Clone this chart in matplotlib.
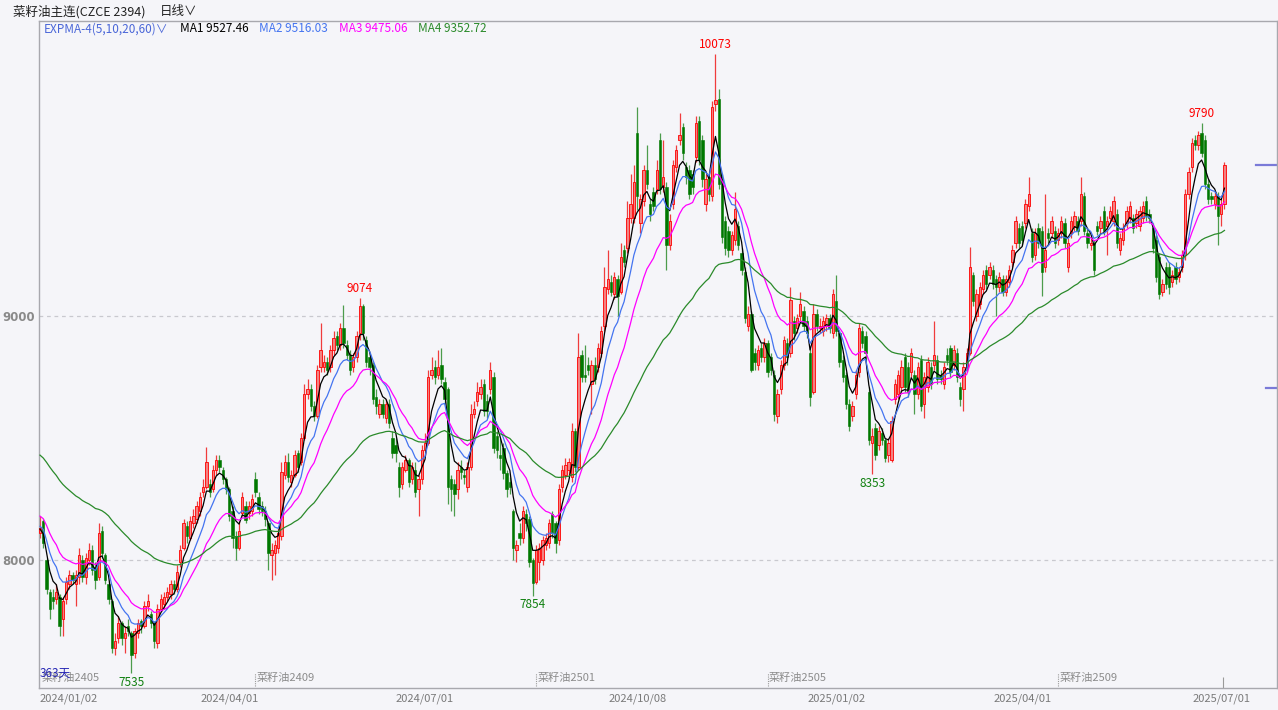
import numpy as np
import matplotlib
matplotlib.use("Agg")
import matplotlib.pyplot as plt
import matplotlib.transforms as mtransforms

plt.rcParams["font.family"] = ["Noto Sans CJK SC", "DejaVu Sans"]

W, H = 1278, 710

# ---- daily OHLC (index 0 = 2024/01/02) ----
opens = [
    8110, 8160, 8000, 7870, 7850, 7840, 7850, 7760, 7840, 7900,
    7940, 7900, 7930, 8000, 7930, 8000, 8040, 7970, 7930, 8120,
    8020, 7900, 7830, 7640, 7680, 7740, 7680, 7730, 7700, 7620,
    7700, 7750, 7730, 7810, 7780, 7740, 7660, 7800, 7820, 7850,
    7860, 7900, 7880, 7990, 8050, 8140, 8090, 8150, 8170, 8200,
    8280, 8300, 8310, 8290, 8370, 8410, 8370, 8330, 8290, 8200,
    8100, 8050, 8192, 8220, 8192, 8200, 8330, 8260, 8220, 8200,
    8150, 8020, 8030, 8050, 8100, 8350, 8400, 8320, 8350, 8440,
    8400, 8500, 8680, 8700, 8630, 8590, 8790, 8790, 8810, 8790,
    8860, 8920, 8880, 8950, 8880, 8840, 8790, 8830, 8930, 9040,
    8900, 8830, 8800, 8670, 8600, 8640, 8580, 8640, 8500, 8470,
    8380, 8310, 8370, 8410, 8330, 8370, 8290, 8330, 8450, 8480,
    8760, 8790, 8760, 8800, 8730, 8700, 8330, 8310, 8290, 8380,
    8350, 8300, 8380, 8600, 8650, 8680, 8720, 8650, 8700, 8750,
    8510, 8430, 8460, 8355, 8320, 8200, 8040, 8110, 8090, 8190,
    8170, 8000, 7910, 7990, 8000, 8060, 8070, 8190, 8150, 8080,
    8300, 8350, 8370, 8340, 8530, 8380, 8840, 8760, 8800, 8720,
    8800, 8790, 8850, 8960, 9110, 9140, 9090, 9150, 9100, 9270,
    9280, 9400, 9400, 9748, 9380, 9470, 9600, 9460, 9510, 9520,
    9720, 9530, 9530, 9290, 9460, 9610, 9720, 9775, 9610, 9600,
    9580, 9650, 9800, 9720, 9460, 9570, 9490, 9870, 9890, 9560,
    9390, 9350, 9270, 9310, 9370, 9260, 9180, 8960, 9010, 8850,
    8800, 8870, 8830, 8890, 8830, 8760, 8590, 8700, 8800, 8890,
    8850, 8980, 8950, 9000, 9020, 8980, 8850, 8690, 9010, 8950,
    8940, 8960, 8990, 8930, 9060, 8930, 8820, 8760, 8640, 8590,
    8680, 8770, 8940, 8920, 8690, 8480, 8540, 8470, 8520, 8490,
    8430, 8410, 8660, 8680, 8710, 8830, 8790, 8770, 8760, 8680,
    8820, 8640, 8710, 8790, 8800, 8820, 8760, 8720, 8840, 8870,
    8800, 8850, 8710, 8700, 8790, 8850, 9170, 9000, 9050, 9110,
    9190, 9170, 9190, 9150, 9120, 9150, 9100, 9140, 9220, 9300,
    9360, 9370, 9380, 9450, 9340, 9250, 9360, 9350, 9200, 9340,
    9340, 9350, 9310, 9340, 9380, 9200, 9340, 9370, 9390, 9390,
    9490, 9340, 9290, 9300, 9370, 9360, 9430, 9370, 9400, 9390,
    9420, 9270, 9310, 9380, 9400, 9400, 9380, 9370, 9400, 9470,
    9420, 9360, 9310, 9240, 9100, 9200, 9200, 9140, 9200, 9160,
    9200, 9250, 9500, 9610, 9720, 9700, 9750, 9720, 9540, 9490,
    9460, 9490, 9420, 9460,
]
highs = [
    8180, 8170, 8010, 7880, 7880, 7900, 7860, 7850, 7930, 7960,
    7950, 7960, 8050, 8020, 8030, 8070, 8060, 7990, 8150, 8140,
    8030, 7910, 7840, 7700, 7770, 7750, 7730, 7760, 7710, 7720,
    7760, 7760, 7830, 7860, 7790, 7750, 7820, 7860, 7870, 7890,
    7920, 7920, 7980, 8060, 8170, 8160, 8180, 8210, 8240, 8280,
    8330, 8465, 8330, 8390, 8430, 8430, 8380, 8340, 8300, 8220,
    8120, 8160, 8280, 8240, 8240, 8270, 8360, 8280, 8240, 8220,
    8160, 8070, 8080, 8130, 8400, 8430, 8440, 8370, 8450, 8450,
    8520, 8720, 8740, 8720, 8650, 8800, 8970, 8840, 8830, 8880,
    8940, 8940, 8970, 9045, 8900, 8860, 8850, 8940, 9074, 9050,
    8920, 8850, 8810, 8700, 8660, 8660, 8660, 8660, 8530, 8500,
    8400, 8400, 8430, 8420, 8400, 8400, 8350, 8470, 8520, 8780,
    8830, 8820, 8860, 8870, 8750, 8710, 8350, 8330, 8400, 8410,
    8370, 8400, 8640, 8650, 8730, 8740, 8740, 8680, 8810, 8770,
    8530, 8500, 8480, 8370, 8340, 8210, 8080, 8150, 8220, 8210,
    8180, 8010, 8060, 8070, 8100, 8110, 8170, 8200, 8160, 8310,
    8390, 8420, 8420, 8560, 8540, 8930, 8860, 8880, 8830, 8820,
    8830, 8890, 8960, 9200, 9270, 9170, 9180, 9170, 9300, 9290,
    9470, 9580, 9620, 9858, 9500, 9620, 9700, 9480, 9530, 9640,
    9750, 9720, 9550, 9420, 9640, 9700, 9830, 9790, 9630, 9620,
    9600, 9820, 9820, 9740, 9580, 9590, 9880, 10073, 9930, 9580,
    9410, 9370, 9350, 9510, 9390, 9280, 9200, 9040, 9020, 8870,
    8880, 8890, 8910, 8900, 8850, 8780, 8700, 8820, 8920, 8910,
    9120, 9000, 9010, 9100, 9040, 9000, 8870, 9050, 9030, 8990,
    9000, 9010, 9010, 9110, 9170, 8940, 8840, 8770, 8660, 8650,
    8780, 8970, 8960, 8940, 8710, 8540, 8560, 8550, 8540, 8500,
    8500, 8590, 8740, 8780, 8820, 8850, 8810, 8870, 8780, 8810,
    8840, 8770, 8830, 8810, 8980, 8840, 8780, 8810, 8870, 8880,
    8880, 8870, 8730, 8810, 8870, 9284, 9180, 9110, 9140, 9190,
    9210, 9220, 9210, 9170, 9180, 9170, 9170, 9210, 9290, 9410,
    9380, 9390, 9480, 9570, 9360, 9360, 9380, 9370, 9500, 9360,
    9410, 9370, 9360, 9410, 9400, 9320, 9410, 9430, 9410, 9570,
    9510, 9360, 9320, 9310, 9390, 9410, 9450, 9410, 9450, 9490,
    9440, 9340, 9380, 9450, 9470, 9420, 9440, 9450, 9470, 9490,
    9440, 9380, 9330, 9260, 9150, 9220, 9220, 9190, 9220, 9200,
    9270, 9520, 9610, 9730, 9740, 9760, 9790, 9740, 9560, 9510,
    9510, 9510, 9480, 9630,
]
lows = [
    8090, 8050, 7860, 7760, 7800, 7820, 7690, 7690, 7820, 7880,
    7900, 7810, 7900, 7910, 7900, 7980, 7940, 7880, 7920, 8010,
    7900, 7820, 7620, 7610, 7660, 7650, 7620, 7690, 7535, 7600,
    7680, 7700, 7720, 7790, 7720, 7640, 7640, 7790, 7800, 7830,
    7840, 7860, 7870, 7970, 8040, 8070, 8080, 8130, 8150, 8180,
    8260, 8290, 8260, 8280, 8350, 8360, 8310, 8270, 8160, 8050,
    8000, 8040, 8180, 8150, 8170, 8180, 8260, 8190, 8180, 8140,
    7960, 7920, 7940, 8030, 8080, 8330, 8320, 8300, 8340, 8360,
    8390, 8490, 8660, 8610, 8570, 8580, 8770, 8770, 8760, 8770,
    8840, 8860, 8860, 8870, 8820, 8760, 8770, 8810, 8900, 8900,
    8790, 8760, 8640, 8600, 8580, 8580, 8560, 8540, 8420, 8400,
    8260, 8290, 8360, 8300, 8310, 8260, 8180, 8310, 8430, 8470,
    8740, 8720, 8740, 8720, 8640, 8230, 8200, 8180, 8250, 8330,
    8310, 8280, 8370, 8580, 8630, 8660, 8590, 8580, 8680, 8440,
    8420, 8370, 8330, 8260, 8270, 8000, 7990, 8060, 8070, 8120,
    7970, 7854, 7900, 7920, 7980, 8040, 8050, 8090, 8030, 8060,
    8280, 8330, 8350, 8320, 8360, 8370, 8730, 8730, 8760, 8600,
    8720, 8770, 8830, 8940, 9090, 9080, 9070, 9000, 9090, 9200,
    9260, 9380, 9380, 9434, 9340, 9450, 9520, 9390, 9430, 9500,
    9500, 9510, 9190, 9270, 9440, 9590, 9700, 9640, 9540, 9480,
    9500, 9630, 9620, 9530, 9430, 9470, 9470, 9840, 9520, 9300,
    9250, 9240, 9250, 9290, 9270, 9170, 8970, 8940, 8770, 8780,
    8780, 8810, 8810, 8750, 8760, 8570, 8560, 8680, 8780, 8800,
    8830, 8900, 8930, 8980, 8940, 8910, 8630, 8680, 8940, 8930,
    8920, 8940, 8930, 8910, 8920, 8790, 8730, 8620, 8530, 8570,
    8660, 8750, 8870, 8820, 8470, 8353, 8410, 8450, 8470, 8400,
    8400, 8400, 8640, 8660, 8690, 8690, 8670, 8750, 8600, 8660,
    8610, 8580, 8690, 8700, 8780, 8720, 8720, 8700, 8800, 8750,
    8780, 8730, 8630, 8610, 8770, 8840, 9040, 8980, 9030, 9090,
    9110, 9150, 9110, 9000, 9100, 9080, 9080, 9120, 9200, 9280,
    9280, 9290, 9360, 9430, 9220, 9230, 9280, 9080, 9180, 9300,
    9320, 9280, 9290, 9320, 9280, 9180, 9320, 9350, 9330, 9370,
    9330, 9280, 9270, 9170, 9330, 9340, 9330, 9250, 9380, 9370,
    9280, 9250, 9290, 9360, 9380, 9340, 9360, 9350, 9380, 9390,
    9380, 9260, 9140, 9070, 9080, 9110, 9090, 9120, 9130, 9140,
    9180, 9230, 9480, 9590, 9680, 9680, 9650, 9520, 9460, 9460,
    9440, 9290, 9370, 9440,
]
closes = [
    8130, 8070, 7880, 7800, 7830, 7870, 7730, 7830, 7910, 7940,
    7920, 7940, 8020, 7930, 8010, 8040, 7960, 7920, 8110, 8030,
    7920, 7840, 7640, 7670, 7740, 7680, 7700, 7710, 7610, 7710,
    7740, 7730, 7810, 7830, 7740, 7670, 7800, 7840, 7850, 7870,
    7900, 7880, 7950, 8040, 8150, 8100, 8160, 8180, 8220, 8260,
    8300, 8400, 8280, 8370, 8410, 8380, 8330, 8290, 8180, 8090,
    8050, 8120, 8260, 8165, 8220, 8250, 8280, 8210, 8200, 8170,
    8030, 8040, 8060, 8110, 8360, 8400, 8340, 8350, 8430, 8380,
    8500, 8680, 8700, 8630, 8590, 8780, 8860, 8810, 8780, 8860,
    8910, 8880, 8950, 8890, 8840, 8780, 8830, 8920, 9040, 8930,
    8810, 8790, 8660, 8630, 8640, 8600, 8640, 8560, 8440, 8440,
    8300, 8380, 8410, 8320, 8380, 8280, 8330, 8450, 8480, 8750,
    8780, 8750, 8790, 8740, 8660, 8300, 8290, 8270, 8370, 8360,
    8340, 8380, 8600, 8620, 8690, 8710, 8610, 8610, 8780, 8460,
    8450, 8420, 8355, 8290, 8300, 8050, 8060, 8090, 8200, 8150,
    7990, 7905, 8040, 8050, 8080, 8090, 8150, 8110, 8070, 8290,
    8370, 8390, 8400, 8530, 8380, 8830, 8750, 8750, 8780, 8800,
    8740, 8870, 8940, 9120, 9150, 9100, 9160, 9080, 9240, 9220,
    9400, 9460, 9550, 9490, 9480, 9600, 9540, 9420, 9450, 9600,
    9520, 9570, 9290, 9390, 9620, 9680, 9740, 9666, 9570, 9500,
    9530, 9790, 9640, 9560, 9560, 9500, 9858, 9885, 9540, 9325,
    9280, 9270, 9330, 9440, 9290, 9190, 8990, 9010, 8780, 8810,
    8860, 8830, 8890, 8770, 8780, 8600, 8680, 8800, 8900, 8830,
    9065, 8930, 8990, 9050, 8960, 8930, 8670, 9010, 8960, 8960,
    8980, 8990, 8950, 9090, 8940, 8810, 8750, 8640, 8550, 8630,
    8760, 8950, 8890, 8850, 8490, 8510, 8430, 8530, 8490, 8420,
    8480, 8570, 8720, 8760, 8790, 8710, 8690, 8850, 8680, 8790,
    8630, 8750, 8810, 8720, 8840, 8740, 8740, 8790, 8820, 8770,
    8860, 8750, 8660, 8790, 8850, 9200, 9060, 9090, 9120, 9170,
    9130, 9200, 9130, 9120, 9160, 9100, 9150, 9190, 9270, 9390,
    9300, 9310, 9460, 9500, 9240, 9340, 9300, 9180, 9270, 9320,
    9390, 9300, 9340, 9390, 9300, 9300, 9390, 9410, 9350, 9500,
    9350, 9300, 9300, 9190, 9350, 9390, 9350, 9390, 9430, 9470,
    9300, 9320, 9360, 9430, 9450, 9360, 9420, 9430, 9450, 9410,
    9400, 9280, 9160, 9090, 9130, 9130, 9120, 9170, 9150, 9180,
    9250, 9500, 9590, 9710, 9700, 9740, 9670, 9540, 9480, 9480,
    9490, 9410, 9460, 9620,
]

# EXPMA settings; seeds are the line values at the left edge of the window
ema_periods = [5, 10, 20, 60]
ema_seeds = [8125, 8140, 8185, 8440]
ema_names = ["MA1", "MA2", "MA3", "MA4"]
ema_values_shown = ["9527.46", "9516.03", "9475.06", "9352.72"]
ema_colors = ["#000000", "#4474f0", "#ff00ff", "#2a8a2a"]

date_pos = [0, 58, 118, 183, 244, 301, 362]
date_labels = ["2024/01/02", "2024/04/01", "2024/07/01", "2024/10/08",
               "2025/01/02", "2025/04/01", "2025/07/01"]

contract_pos = [0, 66, 152, 223, 312]
contract_labels = ["菜籽油2405", "菜籽油2409", "菜籽油2501", "菜籽油2505", "菜籽油2509"]

high_marks = [98, 207, 356]
low_marks = [28, 151, 255]
right_marks = [9620, 8705]

y_ticks = [8000, 9000]


def expma(values, period, seed):
    alpha = 2.0 / (period + 1)
    out, prev = [], seed
    for v in values:
        prev = prev + alpha * (v - prev)
        out.append(prev)
    return np.array(out)


o = np.array(opens, float)
c = np.array(closes, float)
h = np.maximum(np.array(highs, float), np.maximum(o, c))
l = np.minimum(np.array(lows, float), np.minimum(o, c))
x = np.arange(len(c))
up = c >= o

BG = "#f5f5f9"
fig = plt.figure(figsize=(W / 100, H / 100), dpi=100, facecolor=BG)
ax = fig.add_axes([39 / W, 1 - 688 / H, (1277 - 39) / W, (688 - 21) / H], facecolor=BG)

# grid
for yt in y_ticks:
    ax.axhline(yt, color="#c9c9cf", lw=0.9, ls=(0, (3, 3)), zorder=0)

# wicks
ax.vlines(x[up], l[up], h[up], color="#f03c3c", lw=0.9, zorder=2)
ax.vlines(x[~up], l[~up], h[~up], color="#4c9c4c", lw=0.9, zorder=2)

# bodies: red hollow-ish, green solid
body = np.maximum(np.abs(c - o), 4)
bottom = np.minimum(o, c)
ax.bar(x[up], body[up], bottom=bottom[up], width=0.72,
       facecolor="#f28282", edgecolor="#ff0000", lw=0.6, zorder=3)
ax.bar(x[~up], body[~up], bottom=bottom[~up], width=0.72,
       facecolor="#007800", edgecolor="#007800", lw=0.4, zorder=3)

# EXPMA lines
for period, seed, col in zip(ema_periods, ema_seeds, ema_colors):
    ax.plot(x, expma(c, period, seed), color=col, lw=0.9, zorder=4)

spacing = 3.263
ax.set_xlim(-1 / spacing, (1277 - 40) / spacing)
ax.set_ylim(8000 - (688 - 560) / 0.244, 9000 + (316 - 21) / 0.244)

ax.set_yticks(y_ticks)
ax.set_yticklabels([str(v) for v in y_ticks], color="#8a8a8a", fontsize=8.5,
                   fontweight="bold", family=["DejaVu Sans"])
ax.tick_params(axis="y", length=0, pad=3)
ax.set_xticks(date_pos)
ax.set_xticklabels(date_labels, color="#7a7a7a", fontsize=8)
ax.tick_params(axis="x", length=0, pad=4)
ax.get_xticklabels()[0].set_ha("left")
ax.get_xticklabels()[0].set_x(-0.3)

for side in ["left", "bottom", "right", "top"]:
    ax.spines[side].set_color("#a8a8ae")
    ax.spines[side].set_linewidth(1.0)

# high / low labels
for i in high_marks:
    ax.annotate(f"{h[i]:.0f}", (x[i], h[i]), xytext=(0, 2), textcoords="offset points",
                ha="center", va="bottom", color="#ff0000", fontsize=8.5, zorder=6)
for i in low_marks:
    ax.annotate(f"{l[i]:.0f}", (x[i], l[i]), xytext=(0, -2), textcoords="offset points",
                ha="center", va="top", color="#108010", fontsize=8.5, zorder=6)

# contract roll markers along the bottom
btrans = mtransforms.blended_transform_factory(ax.transData, ax.transAxes)
for pos, lab in zip(contract_pos, contract_labels):
    if pos > 0:
        ax.vlines(pos, 0.003, 0.022, transform=btrans, color="#9a9a9a", lw=0.8,
                  linestyles=(0, (1, 1)))
    ax.text(pos + 0.4, 0.008, lab, transform=btrans, ha="left", va="bottom",
            color="#8c8c8c", fontsize=8)
ax.text(-0.2, 0.013, "363天", transform=btrans, ha="left", va="bottom",
        color="#2626b4", fontsize=8.5)
ax.vlines(date_pos[-1] + 0.5, 0, 0.017, transform=btrans, color="#9a9a9a", lw=0.8)

# right-edge price marks
for k, val in enumerate(right_marks):
    ax.axhline(val, xmin=0.983 if k == 0 else 0.991, xmax=1.0, color="#7a7ad8", lw=1.6)

# header and legend row
fig.text(13 / W, 1 - 12 / H, "菜籽油主连(CZCE 2394)", fontsize=9, color="#222222",
         va="center", ha="left")
fig.text(160 / W, 1 - 12 / H, "日线∨", fontsize=9, color="#222222", va="center", ha="left")
fig.text(44 / W, 1 - 29 / H, "EXPMA-4(5,10,20,60)∨", fontsize=8.5, color="#4a66d8",
         va="center", ha="left")
legend_x = [180, 259, 339, 418]
for lx, name, val, col in zip(legend_x, ema_names, ema_values_shown, ema_colors):
    fig.text(lx / W, 1 - 29 / H, f"{name} {val}", fontsize=8.5, color=col,
             va="center", ha="left")

fig.savefig("out.png", dpi=100, facecolor=BG)
